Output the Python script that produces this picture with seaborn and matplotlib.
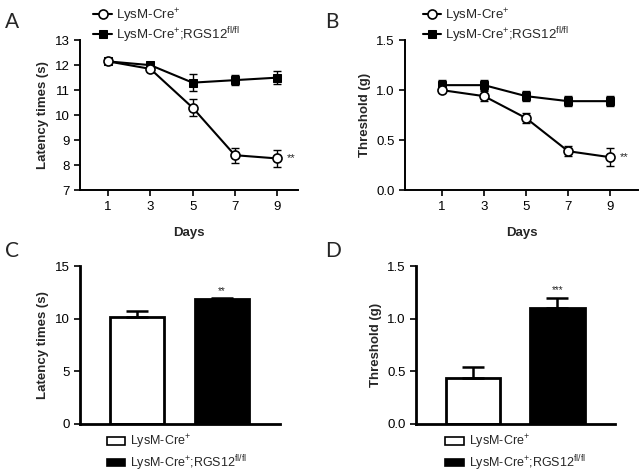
import matplotlib
matplotlib.use("Agg")
import matplotlib.pyplot as plt
import seaborn as sns

days = [1, 3, 5, 7, 9]
ctrl_label = r"LysM-Cre$^{+}$"
ko_label = r"LysM-Cre$^{+}$;RGS12$^{\mathrm{fl/fl}}$"

# A: latency times (s)
lat_ctrl = [12.15, 11.85, 10.3, 8.4, 8.27]
lat_ctrl_err = [0.05, 0.06, 0.35, 0.3, 0.35]
lat_ko = [12.15, 12.0, 11.3, 11.4, 11.5]
lat_ko_err = [0.05, 0.06, 0.35, 0.2, 0.25]

# B: threshold (g)
thr_ctrl = [1.0, 0.94, 0.72, 0.39, 0.33]
thr_ctrl_err = [0.02, 0.05, 0.05, 0.05, 0.09]
thr_ko = [1.05, 1.05, 0.94, 0.89, 0.89]
thr_ko_err = [0.05, 0.05, 0.05, 0.05, 0.05]

# C / D: bar summaries
groups = ["LysM-Cre+", "LysM-Cre+;RGS12fl/fl"]
bar_lat = [10.2, 11.9]
bar_lat_err = [0.5, 0.1]
bar_thr = [0.44, 1.10]
bar_thr_err = [0.1, 0.1]

sns.set_style("ticks")
plt.rcParams["font.family"] = ["Liberation Sans", "DejaVu Sans"]
plt.rcParams["mathtext.fontset"] = "custom"
plt.rcParams["mathtext.rm"] = "Liberation Sans"
plt.rcParams["mathtext.it"] = "Liberation Sans:italic"
plt.rcParams["mathtext.bf"] = "Liberation Sans:bold"

fig = plt.figure(figsize=(6.4, 4.72), dpi=100)
axA = fig.add_axes([0.125, 0.597, 0.341, 0.318])
axB = fig.add_axes([0.633, 0.597, 0.364, 0.318])
axC = fig.add_axes([0.125, 0.102, 0.3125, 0.334])
axD = fig.add_axes([0.65, 0.102, 0.311, 0.334])


def style_axis(ax):
    for s in ["top", "right"]:
        ax.spines[s].set_visible(False)
    for s in ["left", "bottom"]:
        ax.spines[s].set_linewidth(1.4)
        ax.spines[s].set_color("black")
    ax.tick_params(width=1.2, length=4, labelsize=9.5, colors="black", direction="out")


def line_panel(ax, ctrl, ctrl_err, ko, ko_err, ylabel, ylim, yticks, ytlabels, star_y, legend_x):
    sns.lineplot(x=days, y=ko, ax=ax, color="black", marker="s", markersize=6,
                 markeredgecolor="black", markerfacecolor="black", linewidth=1.5,
                 label=ko_label, zorder=3)
    sns.lineplot(x=days, y=ctrl, ax=ax, color="black", marker="o", markersize=6.5,
                 markeredgecolor="black", markerfacecolor="white", markeredgewidth=1.2,
                 linewidth=1.5, label=ctrl_label, zorder=4)
    ax.errorbar(days, ko, yerr=ko_err, fmt="none", ecolor="black", elinewidth=1, capsize=3, zorder=2)
    ax.errorbar(days, ctrl, yerr=ctrl_err, fmt="none", ecolor="black", elinewidth=1, capsize=3, zorder=2)
    ax.set_ylim(*ylim)
    ax.set_yticks(yticks)
    ax.set_yticklabels(ytlabels)
    ax.set_xticks(days)
    ax.set_xlabel("Days", fontsize=9.5, fontweight="bold", labelpad=10)
    ax.set_ylabel(ylabel, fontsize=9.5, fontweight="bold")
    ax.text(9.45, star_y, "**", fontsize=8, va="center", ha="left")
    style_axis(ax)
    h, l = ax.get_legend_handles_labels()
    ax.legend(h[::-1], l[::-1], loc="lower left", bbox_to_anchor=(legend_x, 0.96),
              frameon=False, fontsize=9.5, handlelength=1.4, handletextpad=0.3,
              labelspacing=0.05, borderaxespad=0, borderpad=0.1)


line_panel(axA, lat_ctrl, lat_ctrl_err, lat_ko, lat_ko_err, "Latency times (s)",
           (7, 13), [7, 8, 9, 10, 11, 12, 13], ["7", "8", "9", "10", "11", "12", "13"],
           8.27, 0.055)
axA.set_xlim(-0.33, 10)

line_panel(axB, thr_ctrl, thr_ctrl_err, thr_ko, thr_ko_err, "Threshold (g)",
           (0, 1.5), [0, 0.5, 1.0, 1.5], ["0.0", "0.5", "1.0", "1.5"],
           0.33, 0.07)
axB.set_xlim(-0.76, 10.33)


def bar_panel(ax, vals, errs, ylabel, ylim, yticks, ytlabels, star, star_y, legend_x):
    sns.barplot(x=groups, y=vals, hue=groups, palette=["white", "black"], ax=ax,
                edgecolor="black", linewidth=2, width=0.64, errorbar=None, legend=False)
    ax.errorbar([0, 1], vals, yerr=[[0, 0], errs], fmt="none", ecolor="black",
                elinewidth=1.8, capsize=8, capthick=1.8, zorder=1)
    ax.set_xlim(-0.67, 1.68)
    ax.set_ylim(*ylim)
    ax.set_yticks(yticks)
    ax.set_yticklabels(ytlabels)
    ax.set_xticks([])
    ax.set_xlabel("")
    ax.set_ylabel(ylabel, fontsize=9.5, fontweight="bold")
    ax.text(1, star_y, star, fontsize=7, ha="center", va="bottom")
    style_axis(ax)
    ax.spines["left"].set_linewidth(2)
    ax.spines["bottom"].set_linewidth(2)
    handles = [plt.Rectangle((0, 0), 1, 1, facecolor=c, edgecolor="black", linewidth=1.2)
               for c in ["white", "black"]]
    ax.legend(handles, [ctrl_label, ko_label], loc="upper left",
              bbox_to_anchor=(legend_x, -0.055), frameon=False, fontsize=9,
              handlelength=1.5, handleheight=0.55, handletextpad=0.4,
              labelspacing=0.15, borderaxespad=0, borderpad=0.05)


bar_panel(axC, bar_lat, bar_lat_err, "Latency times (s)", (0, 15), [0, 5, 10, 15],
          ["0", "5", "10", "15"], "**", 12.15, 0.13)
bar_panel(axD, bar_thr, bar_thr_err, "Threshold (g)", (0, 1.5), [0, 0.5, 1.0, 1.5],
          ["0.0", "0.5", "1.0", "1.5"], "***", 1.23, 0.145)

for letter, x, y in [("A", 0.008, 0.975), ("B", 0.508, 0.975), ("C", 0.008, 0.49), ("D", 0.508, 0.49)]:
    fig.text(x, y, letter, fontsize=15, family="Lato", va="top", ha="left")

fig.savefig("out.png", dpi=100)
